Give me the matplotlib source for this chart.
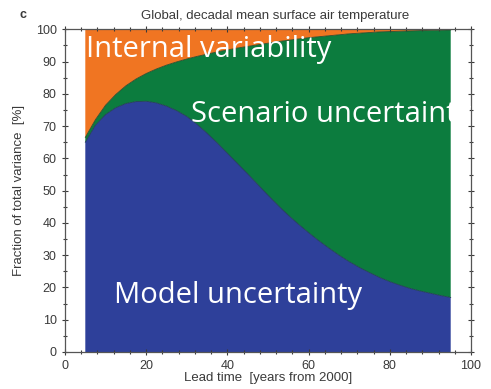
import numpy as np
import matplotlib
matplotlib.use('Agg')
import matplotlib.pyplot as plt
from matplotlib.ticker import MultipleLocator

# lead time [years from 2000]
lead_time = [5, 7.5, 10, 12.5, 15, 17.5, 20, 22.5, 25, 27.5, 30, 32.5, 35, 37.5,
             40, 42.5, 45, 47.5, 50, 52.5, 55, 57.5, 60, 62.5, 65, 67.5, 70, 72.5,
             75, 77.5, 80, 82.5, 85, 87.5, 90, 92.5, 95]
# fraction of total variance [%]
model_unc = [65.0, 70.3, 73.6, 75.7, 77.0, 77.6, 77.7, 77.2, 76.2, 74.8, 73.0, 70.6,
             67.8, 64.8, 61.6, 58.4, 55.2, 51.9, 48.6, 45.4, 42.4, 39.6, 37.0, 34.5,
             32.2, 30.0, 28.0, 26.2, 24.6, 23.1, 21.8, 20.7, 19.7, 18.9, 18.2, 17.5, 16.9]
scenario_unc = [1.5, 1.7, 2.9, 4.1, 5.5, 7.0, 8.6, 10.5, 12.7, 15.1, 17.8, 21.0,
                24.5, 28.2, 32.0, 35.8, 39.5, 43.3, 47.1, 50.8, 54.2, 57.4, 60.4, 63.2,
                65.8, 68.3, 70.6, 72.6, 74.4, 76.1, 77.5, 78.7, 79.8, 80.7, 81.5, 82.25, 82.9]
internal_var = [100 - m - s for m, s in zip(model_unc, scenario_unc)]

c_blue = '#2e409a'
c_green = '#0c7c3e'
c_orange = '#f07522'
txt = '#3a3a3a'

plt.rcParams['font.family'] = ['Liberation Sans', 'DejaVu Sans']

fig = plt.figure(figsize=(4.91, 3.89), dpi=100)
ax = fig.add_axes([65 / 491, 1 - 352 / 389, (471 - 65) / 491, (352 - 29.3) / 389])

ax.stackplot(lead_time, model_unc, scenario_unc, internal_var,
             colors=[c_blue, c_green, c_orange], edgecolor='none')
bottom = np.array(model_unc)
top = bottom + np.array(scenario_unc)
ax.plot(lead_time, bottom, color='#1f3a55', lw=0.6)
ax.plot(lead_time, top, color='#2e4a2a', lw=0.6)

ax.set_xlim(0, 100)
ax.set_ylim(0, 100)
ax.xaxis.set_major_locator(MultipleLocator(20))
ax.xaxis.set_minor_locator(MultipleLocator(4))
ax.yaxis.set_major_locator(MultipleLocator(10))
ax.yaxis.set_minor_locator(MultipleLocator(5))
ax.tick_params(which='both', direction='inout', top=True, right=True,
               labelsize=9, colors=txt, width=0.8)
ax.tick_params(which='major', length=5)
ax.tick_params(which='minor', length=3)
for s in ax.spines.values():
    s.set_color('#555555')
    s.set_linewidth(0.9)

ax.set_xlabel('Lead time  [years from 2000]', fontsize=9.5, color=txt, labelpad=0)
ax.set_ylabel('Fraction of total variance  [%]', fontsize=9.5, color=txt, labelpad=8)
fig.text(275 / 491, 1 - 16 / 389, 'Global, decadal mean surface air temperature',
         fontsize=9.5, color=txt, ha='center', va='center')
fig.text(23 / 491, 1 - 15 / 389, 'c', fontsize=9, fontweight='bold', color=txt,
         ha='center', va='center')

ov = dict(color='white', fontsize=21, family=['Open Sans', 'DejaVu Sans'], va='baseline')
ax.text(5.2, 91.3, 'Internal variability', **ov)
ax.text(31.1, 71.3, 'Scenario uncertainty', clip_on=False, **ov)
ax.text(12.1, 15.1, 'Model uncertainty', **ov)

fig.savefig('out.png', dpi=100)
